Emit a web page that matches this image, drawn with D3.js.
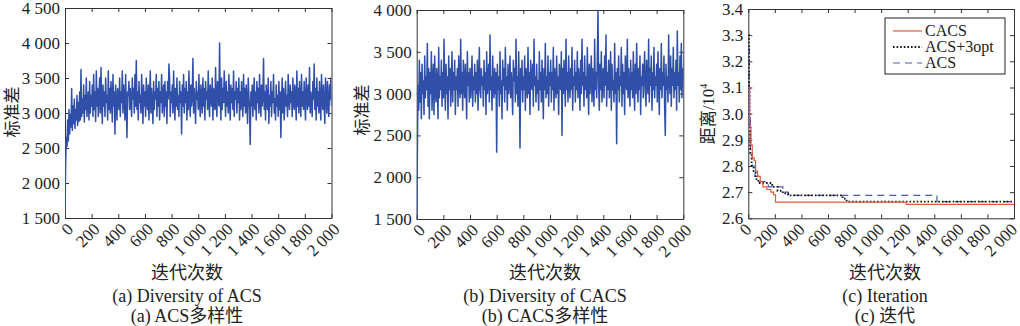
<!DOCTYPE html>
<html><head><meta charset="utf-8">
<script src="https://cdn.jsdelivr.net/npm/d3@7"></script>
<style>
html,body{margin:0;padding:0;background:#fff;}
svg{display:block;}
text{font-family:"Liberation Serif","Noto Sans CJK SC",serif;fill:#222;}
</style></head>
<body><svg id="c" width="1020" height="326"></svg>
<script>
// ---------- data ----------
const iterStep = 5;
const xTicks = [0,200,400,600,800,1000,1200,1400,1600,1800,2000];
const yTicksA = [1500,2000,2500,3000,3500,4000,4500];
const yTicksB = [1500,2000,2500,3000,3500,4000];
const yTicksC = [2.6,2.7,2.8,2.9,3.0,3.1,3.2,3.3,3.4];

// (a) ACS diversity, one value every 5 iterations
const diversityACS = [
1550,2300,2650,2520,2900,2600,3050,2700,2980,2800,3350,2750,3100,2850,3200,2780,3050,2900,3250,2820,
3150,2880,3300,2900,3620,2950,3200,3000,3400,2870,3250,3050,3500,2950,3150,3300,2900,3450,3000,3250,
3100,3400,2950,3550,3050,3300,2880,3600,3100,3350,2950,3250,3500,3000,3650,3150,2850,3400,3100,3300,
2950,3500,3150,3250,2900,3600,3050,3350,3000,3450,3200,2870,3550,3100,3300,2700,3400,3150,2900,3350,
3200,3050,3500,2950,3300,3150,3600,3000,3400,3200,2900,3550,3100,2650,3300,3250,3450,3050,3350,3150,
2950,3500,3200,3350,3000,3550,3100,3750,3050,3300,2900,3450,3150,3250,3000,3550,3200,2850,3400,3100,
3300,2950,3500,3150,3050,3400,2900,3250,3600,3000,3350,3150,2850,3450,3050,3300,3200,3550,2950,3350,
3100,3450,2900,3300,3150,3550,3000,3250,3400,2950,3450,3100,3300,2850,3450,3200,3700,3500,2950,3300,
3150,3400,3000,3600,3200,2900,3350,3100,3500,3050,3250,2950,3450,3150,3300,2700,3400,3100,3550,3000,
3350,3150,3450,2900,3300,3050,3600,3200,2950,3400,3100,3250,3780,3000,3350,3150,2850,3450,3200,3300,
3050,3550,3150,2950,3400,3250,3000,3500,3100,3350,2900,3450,3200,3300,3050,3600,3150,2950,3400,3250,
3100,3500,2900,3350,3200,3050,3650,3150,2950,3450,3300,3100,4000,3200,2900,3500,3050,3350,3150,3600,
3250,2950,3450,3100,3300,3000,3550,3200,2900,3400,3150,3350,3050,3600,2950,3300,3200,3450,3000,3350,
3150,3500,2900,3300,3050,3450,3200,2950,3550,3100,3350,3000,3400,3150,2850,3500,3250,3050,2550,3300,
3100,3400,2950,3250,3500,3050,3300,2900,3450,3150,3350,3000,3550,3200,2950,3400,3100,3250,3780,3050,
3300,2900,3400,3150,3050,3500,2850,3250,3100,3450,2950,3300,3150,3550,3000,3200,2900,3400,3100,3250,
2950,3450,3050,3300,2650,3200,3500,3000,3350,2900,3150,3450,3100,3250,2950,3550,3200,3050,3400,3150,
3300,2950,3500,3150,3050,3400,3250,2900,3600,3100,3350,3000,3450,3200,2950,3550,3100,3300,3050,3450,
3150,2900,3500,3250,3050,3400,3100,3650,3000,3300,3150,2950,3450,3200,3700,3050,3350,2900,3500,3100,
3300,3000,3450,3150,2900,3550,3200,3050,3400,3100,2850,3500,3250,3000,3450,3150,2950,3400,3200,3500,
3100];

// (b) CACS diversity, one value every 5 iterations
const diversityCACS = [
1500,2300,3100,2800,3400,2900,3250,2700,3350,3000,3150,2750,3450,2950,3200,3050,3600,2850,3300,2700,
3250,3000,3500,2800,3150,3350,2750,3450,3050,2900,3300,3100,2700,3550,2950,3200,3050,3400,2850,3250,
2950,3650,3100,2800,3350,3000,3200,2700,3450,3050,3300,2850,3150,3500,2900,3250,3050,3400,2750,3200,
3050,3300,2850,3450,3100,2950,3650,3000,3250,2800,3400,3150,2950,3350,3050,2700,3500,3100,3250,2900,
3300,2950,3150,3450,2850,3200,3050,3350,2900,3250,3000,3400,2800,3150,3550,3050,2950,3300,3100,3200,
2850,3400,3050,3250,2750,3500,3000,3150,3350,2900,3700,3050,3200,2800,3450,3100,2950,3300,3000,3250,
2300,3350,3050,3200,2850,3500,3000,3150,2700,3400,3100,3300,2900,3550,3050,3200,2800,3350,3000,3150,
3450,2950,3250,3050,2750,3400,3150,3300,2900,3650,3000,3200,2850,3500,3100,2350,3300,3050,3400,2900,
3200,3050,3450,2800,3300,3100,2950,3550,3000,3250,2750,3400,3150,3050,3350,2850,3650,3100,3200,2900,
3350,3000,3150,2800,3500,3050,3250,2900,3400,3100,2700,3300,3050,3600,2950,3200,3000,3450,2850,3250,
3100,3400,2900,3250,3050,3550,2800,3300,3150,2950,3450,3000,3200,2750,3350,3100,3050,3500,2500,3300,
3000,3400,3150,2850,3650,3050,3250,2900,3450,3100,2950,3300,3050,3550,2800,3200,3100,3400,2900,3250,
3050,3500,2950,3300,3150,2800,3400,3000,3650,3100,3250,2850,3450,3050,3200,2950,3550,3100,2750,3350,
3000,3200,3450,2900,3300,3100,2850,3650,3050,3250,2950,3400,4000,3100,2800,3350,3050,3500,2900,3200,
3300,2950,3450,3100,3700,2850,3250,3050,3400,2950,3200,3500,2800,3350,3050,3150,2900,3600,3000,3250,
2400,3300,3050,3450,2900,3200,3100,3550,2850,3350,3000,3250,2750,3450,3150,3050,3650,2950,3300,3100,
2850,3400,3050,3250,2950,3500,3100,2800,3350,3000,3600,3150,2900,3300,3050,3450,2750,3200,3100,3350,
2950,3250,3500,3050,2850,3400,3150,3000,3650,2900,3300,3100,3450,2800,3250,3050,3550,2950,3200,3100,
3350,2900,3500,3150,2750,3300,3050,3600,2950,3250,3100,3450,2850,2500,3350,3050,3200,2900,3700,3150,
3000,3450,2850,3300,3100,3550,2950,3250,3050,3400,2800,3750,3100,3250,2900,3450,3050,3600,2950,3300,
3150];

// (c) convergence curves (iteration, distance /10^4), step after
const seriesNames = ["CACS","ACS+3opt","ACS"];
const cacsIter = [0,10,20,30,45,55,70,90,110,140,170,190,205,1190,2000];
const cacsDist = [3.10,2.95,2.88,2.83,2.82,2.78,2.76,2.74,2.72,2.71,2.70,2.69,2.662,2.653,2.653];
const acs3Iter = [0,5,10,15,25,40,55,75,180,220,260,300,710,740,2000];
const acs3Dist = [3.30,3.10,2.95,2.85,2.80,2.78,2.75,2.735,2.72,2.705,2.695,2.688,2.675,2.664,2.664];
const acsIter  = [0,8,15,30,50,80,150,260,300,1420,2000];
const acsDist  = [3.25,3.00,2.86,2.80,2.76,2.74,2.72,2.70,2.688,2.664,2.664];

// ---------- drawing ----------
const svg = d3.select("#c");
const fmt = d3.formatLocale({decimal:".",thousands:" ",grouping:[3],currency:["",""]}).format(",d");
const tickFont = 17;
const labelFont = 18;

function panel(o){
  const x = d3.scaleLinear().domain([0,2000]).range([o.l,o.r]);
  const y = d3.scaleLinear().domain(o.yDom).range([o.b,o.t]);
  const g = svg.append("g");
  const axStyle = s => s.call(a=>a.select(".domain").attr("stroke","#333"))
     .call(a=>a.selectAll(".tick line").attr("stroke","#333"));
  const bottom = g.append("g").attr("transform",`translate(0,${o.b})`)
    .call(d3.axisBottom(x).tickValues(xTicks).tickSize(-4).tickSizeOuter(0).tickFormat(""));
  const top = g.append("g").attr("transform",`translate(0,${o.t})`)
    .call(d3.axisTop(x).tickValues(xTicks).tickSize(-4).tickSizeOuter(0).tickFormat(""));
  const left = g.append("g").attr("transform",`translate(${o.l},0)`)
    .call(d3.axisLeft(y).tickValues(o.yTicks).tickSize(-4).tickSizeOuter(0).tickFormat(o.yFmt).tickPadding(5));
  const right = g.append("g").attr("transform",`translate(${o.r},0)`)
    .call(d3.axisRight(y).tickValues(o.yTicks).tickSize(-4).tickSizeOuter(0).tickFormat(""));
  [bottom,top,left,right].forEach(axStyle);
  left.selectAll("text").attr("font-size",tickFont).attr("fill","#222");
  g.append("g").selectAll("text").data(xTicks).join("text")
    .attr("transform",d=>`translate(${x(d)+o.xo},${o.b+8}) rotate(-45)`)
    .attr("text-anchor","end").attr("dy","0.35em")
    .attr("font-size",tickFont).text(d=>fmt(d));
  g.append("text").attr("transform",`translate(${o.ylx},${o.yly}) rotate(-90)`)
    .attr("text-anchor","middle").attr("dy","0.35em").attr("font-size",17).html(o.yLabel);
  g.append("text").attr("x",o.cx).attr("y",279).attr("text-anchor","middle").attr("font-size",labelFont).text("迭代次数");
  g.append("text").attr("x",o.cx).attr("y",302).attr("text-anchor","middle").attr("font-size",labelFont).text(o.cap1);
  g.append("text").attr("x",o.cx).attr("y",322).attr("text-anchor","middle").attr("font-size",labelFont).text(o.cap2);
  const id = "clip"+o.id;
  svg.append("clipPath").attr("id",id).append("rect").attr("x",o.l).attr("y",o.t).attr("width",o.r-o.l).attr("height",o.b-o.t);
  const plot = g.append("g").attr("clip-path",`url(#${id})`);
  return {x,y,plot};
}

function noisePanel(o, values){
  const p = panel(o);
  const line = d3.line().x((d,i)=>p.x(i*iterStep)).y(d=>p.y(d));
  p.plot.append("path").datum(values).attr("d",line)
    .attr("fill","none").attr("stroke","#2f4fa8").attr("stroke-width",1.5).attr("stroke-linejoin","round");
}

noisePanel({id:"a",l:65,r:331.5,t:8,b:218,xo:5,yDom:[1500,4500],yTicks:yTicksA,yFmt:fmt,
  yLabel:"标准差",ylx:12,yly:112,cx:187,cap1:"(a) Diversity of ACS",cap2:"(a) ACS多样性"}, diversityACS);
noisePanel({id:"b",l:416.7,r:683.3,t:10,b:219,xo:5,yDom:[1500,4000],yTicks:yTicksB,yFmt:fmt,
  yLabel:"标准差",ylx:362,yly:110,cx:545,cap1:"(b) Diversity of CACS",cap2:"(b) CACS多样性"}, diversityCACS);

const pc = panel({id:"c",l:748.3,r:1014,t:9,b:218.3,xo:0,yDom:[2.6,3.4],yTicks:yTicksC,yFmt:d3.format(".1f"),
  yLabel:"距离/10<tspan dy='-7' font-size='10'>4</tspan>",ylx:708,yly:114,cx:885,cap1:"(c) Iteration",cap2:"(c) 迭代"});
const styles = [
  {it:cacsIter,d:cacsDist,color:"#e8563a",dash:null,w:1.2},
  {it:acs3Iter,d:acs3Dist,color:"#111",dash:"1.6,2",w:1.8},
  {it:acsIter,d:acsDist,color:"#4f5fae",dash:"7,5",w:1.2}
];
const stepLine = d3.line().curve(d3.curveStepAfter).x(d=>pc.x(d[0])).y(d=>pc.y(d[1]));
[2,1,0].forEach(k=>{
  const s = styles[k];
  pc.plot.append("path").datum(s.it.map((v,i)=>[v,s.d[i]])).attr("d",stepLine)
    .attr("fill","none").attr("stroke",s.color).attr("stroke-width",s.w)
    .attr("stroke-dasharray",s.dash);
});
// legend
const lg = svg.append("g");
lg.append("rect").attr("x",885).attr("y",18).attr("width",120).attr("height",56)
  .attr("fill","#fff").attr("stroke","#222").attr("stroke-width",1);
seriesNames.forEach((n,i)=>{
  const yy = 31 + i*16;
  const s = styles[i];
  lg.append("line").attr("x1",893).attr("x2",922).attr("y1",yy).attr("y2",yy)
    .attr("stroke",s.color).attr("stroke-width",s.w).attr("stroke-dasharray",s.dash);
  lg.append("text").attr("x",925).attr("y",yy+5).attr("font-size",16).text(n);
});
</script></body></html>
